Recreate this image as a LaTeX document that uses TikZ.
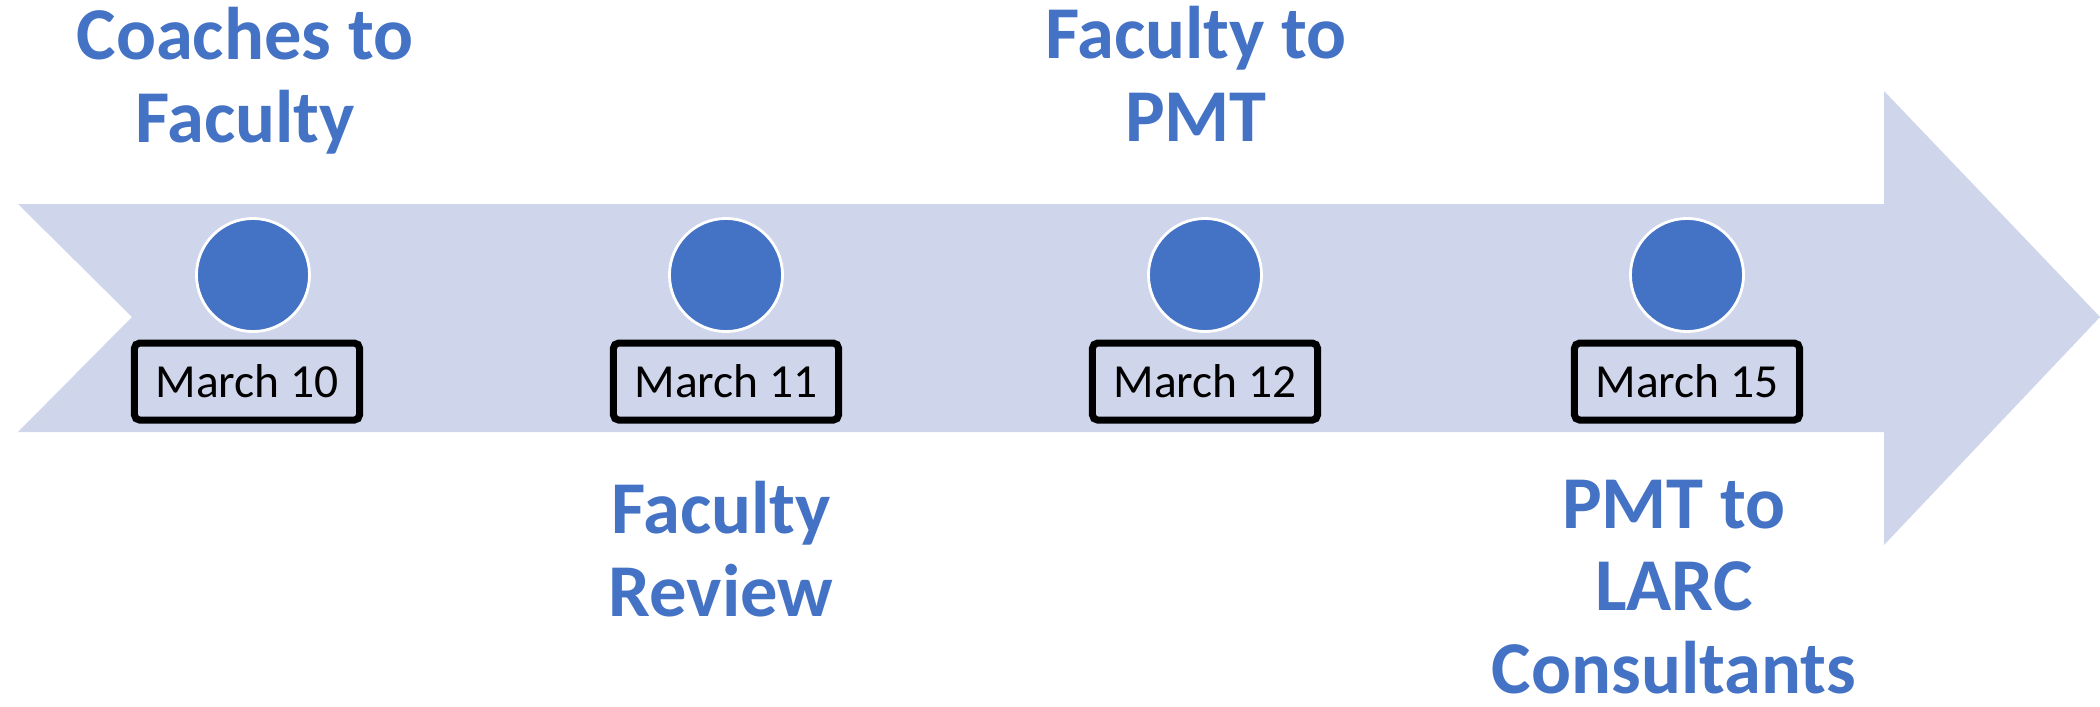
\documentclass[tikz,border=0pt]{standalone}
\usepackage{fontspec}
\setmainfont{Carlito}
\usetikzlibrary{positioning}
\definecolor{bandfill}{HTML}{CFD5EA}
\definecolor{dotblue}{HTML}{4472C4}
\begin{document}
\begin{tikzpicture}[x=0.01cm,y=-0.01cm,
    dot/.style={circle,fill=dotblue,draw=white,line width=0.8pt,minimum size=1.13cm,inner sep=0pt},
    datebox/.style={draw=black,line width=2pt,rounded corners=1.5pt,minimum width=2.25cm,minimum height=0.77cm,inner sep=0pt,font=\fontsize{13.5}{16}\selectfont},
    milestone/.style={align=center,anchor=base,text=dotblue,inner sep=0pt,font=\fontsize{21.2}{23.4}\selectfont\bfseries}]
    \useasboundingbox (0,0) rectangle (2100,706);
    % timeline arrow
    \fill [bandfill] (18,204) -- (1884,204) -- (1884,91) -- (2100,317) -- (1884,545) -- (1884,432) -- (18,432) -- (132,317) -- cycle;
    % dots and dates
    \node [dot] (dot1) at (253,275) {};
    \node [dot] (dot2) at (726,275) {};
    \node [dot] (dot3) at (1205,275) {};
    \node [dot] (dot4) at (1687,275) {};
    \node [datebox,below of=dot1,node distance=1.065cm,xshift=-0.06cm] (date1) {March 10};
    \node [datebox,below of=dot2,node distance=1.065cm] (date2) {March 11};
    \node [datebox,below of=dot3,node distance=1.065cm] (date3) {March 12};
    \node [datebox,below of=dot4,node distance=1.065cm] (date4) {March 15};
    % milestone labels (base = last line)
    \node [milestone] (step1) at (245,142) {Coaches to\\Faculty};
    \node [milestone] (step2) at (721,616) {Faculty\\Review};
    \node [milestone] (step3) at (1196,141) {Faculty to\\PMT};
    \node [milestone] (step4) at (1674,693) {PMT to\\LARC\\Consultants};
\end{tikzpicture}
\end{document}
